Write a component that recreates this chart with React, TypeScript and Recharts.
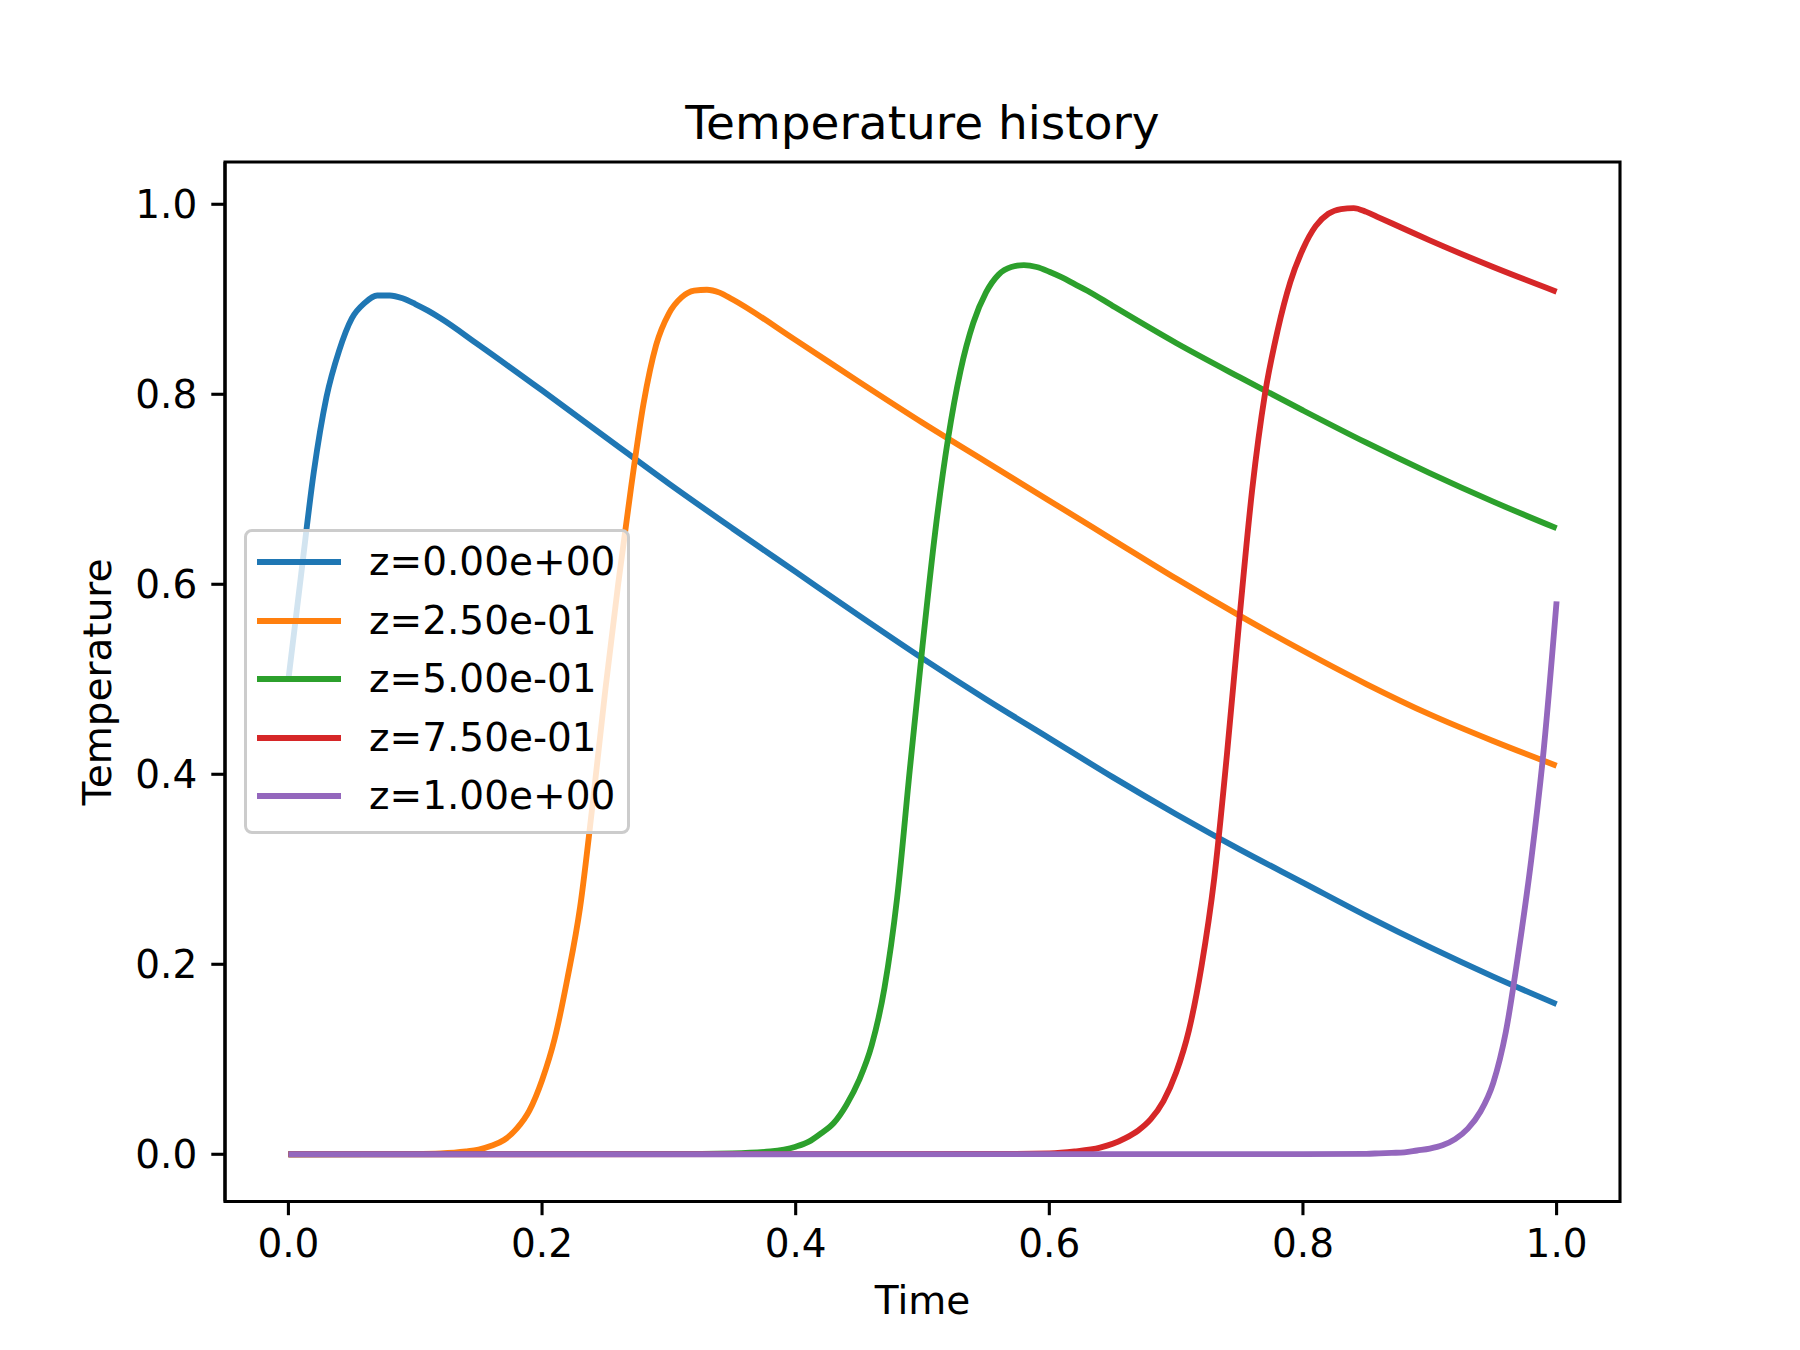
import React from 'react'
import { LineChart, Line, XAxis, YAxis, Legend, ReferenceArea } from 'recharts'

/* 시간 축 (각 곡선별 샘플링 시점) 과 온도 값 */
const blueT = [0, 0.01, 0.02, 0.03, 0.04, 0.05, 0.06, 0.07, 0.08, 0.09, 0.1, 0.11, 0.12, 0.15, 0.2, 0.25, 0.3, 0.35, 0.4, 0.45, 0.5, 0.55, 0.6, 0.65, 0.7, 0.75, 0.8, 0.85, 0.9, 0.95, 1.0]
const blueV = [0.5, 0.61, 0.718, 0.797, 0.846, 0.88, 0.896, 0.904, 0.904, 0.901, 0.895, 0.888, 0.88, 0.852, 0.804, 0.755, 0.706, 0.659, 0.613, 0.567, 0.522, 0.479, 0.438, 0.397, 0.358, 0.321, 0.286, 0.251, 0.218, 0.187, 0.158]

const orangeT = [0, 0.1, 0.12, 0.14, 0.15, 0.16, 0.17, 0.18, 0.19, 0.2, 0.21, 0.22, 0.23, 0.24, 0.25, 0.26, 0.27, 0.28, 0.29, 0.3, 0.31, 0.32, 0.33, 0.34, 0.35, 0.4, 0.45, 0.5, 0.55, 0.6, 0.65, 0.7, 0.75, 0.8, 0.85, 0.9, 0.95, 1.0]
const orangeV = [0, 0.0005, 0.001, 0.003, 0.005, 0.009, 0.015, 0.027, 0.046, 0.078, 0.122, 0.185, 0.26, 0.37, 0.49, 0.6, 0.7, 0.79, 0.852, 0.885, 0.902, 0.909, 0.91, 0.907, 0.9, 0.857, 0.813, 0.77, 0.729, 0.688, 0.647, 0.606, 0.567, 0.53, 0.495, 0.463, 0.435, 0.409]

const greenT = [0, 0.3, 0.35, 0.38, 0.4, 0.41, 0.42, 0.43, 0.44, 0.45, 0.46, 0.47, 0.48, 0.49, 0.5, 0.51, 0.52, 0.53, 0.54, 0.55, 0.56, 0.57, 0.58, 0.59, 0.6, 0.61, 0.62, 0.63, 0.65, 0.7, 0.75, 0.8, 0.85, 0.9, 0.95, 1.0]
const greenV = [0, 0.0003, 0.001, 0.003, 0.008, 0.013, 0.022, 0.033, 0.052, 0.078, 0.115, 0.175, 0.27, 0.405, 0.535, 0.655, 0.752, 0.825, 0.875, 0.907, 0.926, 0.934, 0.936, 0.934, 0.929, 0.923, 0.916, 0.909, 0.893, 0.854, 0.818, 0.783, 0.749, 0.717, 0.687, 0.659]

const redT = [0, 0.55, 0.6, 0.62, 0.64, 0.65, 0.66, 0.67, 0.68, 0.69, 0.7, 0.71, 0.72, 0.73, 0.74, 0.75, 0.76, 0.77, 0.78, 0.79, 0.8, 0.81, 0.82, 0.83, 0.84, 0.85, 0.86, 0.87, 0.88, 0.9, 0.95, 1.0]
const redV = [0, 0.0003, 0.001, 0.003, 0.007, 0.011, 0.017, 0.025, 0.037, 0.056, 0.086, 0.13, 0.198, 0.29, 0.42, 0.565, 0.7, 0.8, 0.867, 0.918, 0.953, 0.977, 0.99, 0.995, 0.996, 0.992, 0.986, 0.98, 0.974, 0.962, 0.934, 0.908]

const purpleT = [0, 0.8, 0.85, 0.86, 0.87, 0.88, 0.89, 0.9, 0.91, 0.92, 0.93, 0.94, 0.95, 0.96, 0.97, 0.98, 0.99, 1.0]
const purpleV = [0, 0.0002, 0.0005, 0.001, 0.0015, 0.002, 0.004, 0.006, 0.0095, 0.016, 0.027, 0.045, 0.075, 0.129, 0.213, 0.31, 0.428, 0.582]

const seriesNames = ['z=0.00e+00', 'z=2.50e-01', 'z=5.00e-01', 'z=7.50e-01', 'z=1.00e+00']
const seriesColors = ['#1f77b4', '#ff7f0e', '#2ca02c', '#d62728', '#9467bd']

const xTicks = [0, 0.2, 0.4, 0.6, 0.8, 1.0]
const yTicks = [0, 0.2, 0.4, 0.6, 0.8, 1.0]

// matplotlib 기본 여백 (5%)
const X_DOMAIN: [number, number] = [-0.05, 1.05]
const Y_DOMAIN: [number, number] = [-0.0497, 1.0445]

const FONT = '"DejaVu Sans", sans-serif'
const LINE_W = 5.86
const SPINE_W = 3.1

const toPoints = (ts: number[], vs: number[]) => ts.map((t, i) => ({ t, v: vs[i] }))

const series = [
  toPoints(blueT, blueV),
  toPoints(orangeT, orangeV),
  toPoints(greenT, greenV),
  toPoints(redT, redV),
  toPoints(purpleT, purpleV),
]

// ── 범례 (matplotlib 스타일 박스) ───────────────────────────────────────────

function LegendBox() {
  return (
    <div
      style={{
        position: 'relative',
        width: 386,
        height: 305,
        boxSizing: 'border-box',
        border: '3px solid #cccccc',
        borderRadius: 8,
        background: 'rgba(255,255,255,0.8)',
        fontFamily: FONT,
        fontSize: 39,
        color: '#000',
      }}
    >
      {seriesNames.map((name, i) => {
        const cy = 30 + i * 58.5
        return (
          <div key={name}>
            <svg
              width={90}
              height={12}
              style={{ position: 'absolute', left: 10, top: cy - 6 }}
            >
              <line x1={0} x2={84} y1={6} y2={6} stroke={seriesColors[i]} strokeWidth={LINE_W} />
            </svg>
            <span
              style={{
                position: 'absolute',
                left: 122,
                top: cy - 23,
                lineHeight: '46px',
                whiteSpace: 'nowrap',
              }}
            >
              {name}
            </span>
          </div>
        )
      })}
    </div>
  )
}

export default function App() {
  const tickStyle = { fill: '#000', fontSize: 39, fontFamily: FONT }

  return (
    <div style={{ position: 'absolute', left: 0, top: 0, width: 1800, height: 1350, background: '#fff' }}>
      <LineChart
        width={1800}
        height={1350}
        margin={{ top: 162, right: 180, bottom: 48.5, left: 105 }}
      >
        <XAxis
          dataKey="t"
          type="number"
          domain={X_DOMAIN}
          ticks={xTicks}
          allowDataOverflow
          height={100}
          tick={tickStyle}
          tickFormatter={(v: number) => v.toFixed(1)}
          tickSize={13.7}
          tickMargin={14}
          axisLine={{ stroke: '#000', strokeWidth: SPINE_W }}
          tickLine={{ stroke: '#000', strokeWidth: SPINE_W }}
        />
        <YAxis
          type="number"
          domain={Y_DOMAIN}
          ticks={yTicks}
          allowDataOverflow
          width={120}
          tick={tickStyle}
          tickFormatter={(v: number) => v.toFixed(1)}
          tickSize={13.7}
          tickMargin={14}
          axisLine={{ stroke: '#000', strokeWidth: SPINE_W }}
          tickLine={{ stroke: '#000', strokeWidth: SPINE_W }}
        />

        {/* 위/오른쪽 테두리 */}
        <ReferenceArea
          x1={X_DOMAIN[0]}
          x2={X_DOMAIN[1]}
          y1={Y_DOMAIN[0]}
          y2={Y_DOMAIN[1]}
          fill="none"
          stroke="#000"
          strokeWidth={SPINE_W}
          ifOverflow="visible"
        />

        {series.map((data, i) => (
          <Line
            key={seriesNames[i]}
            data={data}
            dataKey="v"
            name={seriesNames[i]}
            type="monotone"
            stroke={seriesColors[i]}
            strokeWidth={LINE_W}
            strokeLinejoin="round"
            dot={false}
            activeDot={false}
            isAnimationActive={false}
          />
        ))}

        {/* middle 정렬 → 플롯 영역을 줄이지 않음 */}
        <Legend
          layout="horizontal"
          verticalAlign="middle"
          align="center"
          content={() => <LegendBox />}
          wrapperStyle={{ position: 'absolute', left: 244, top: 529, width: 386, height: 305 }}
        />
      </LineChart>

      {/* 제목과 축 이름 */}
      <svg
        width={1800}
        height={1350}
        style={{ position: 'absolute', left: 0, top: 0, pointerEvents: 'none' }}
      >
        <text x={922.5} y={139} textAnchor="middle" fontSize={47} fontFamily={FONT} fill="#000">
          Temperature history
        </text>
        <text x={922.5} y={1314} textAnchor="middle" fontSize={39} fontFamily={FONT} fill="#000">
          Time
        </text>
        <text
          x={0}
          y={0}
          transform="translate(111 682) rotate(-90)"
          textAnchor="middle"
          fontSize={39}
          fontFamily={FONT}
          fill="#000"
        >
          Temperature
        </text>
      </svg>
    </div>
  )
}
